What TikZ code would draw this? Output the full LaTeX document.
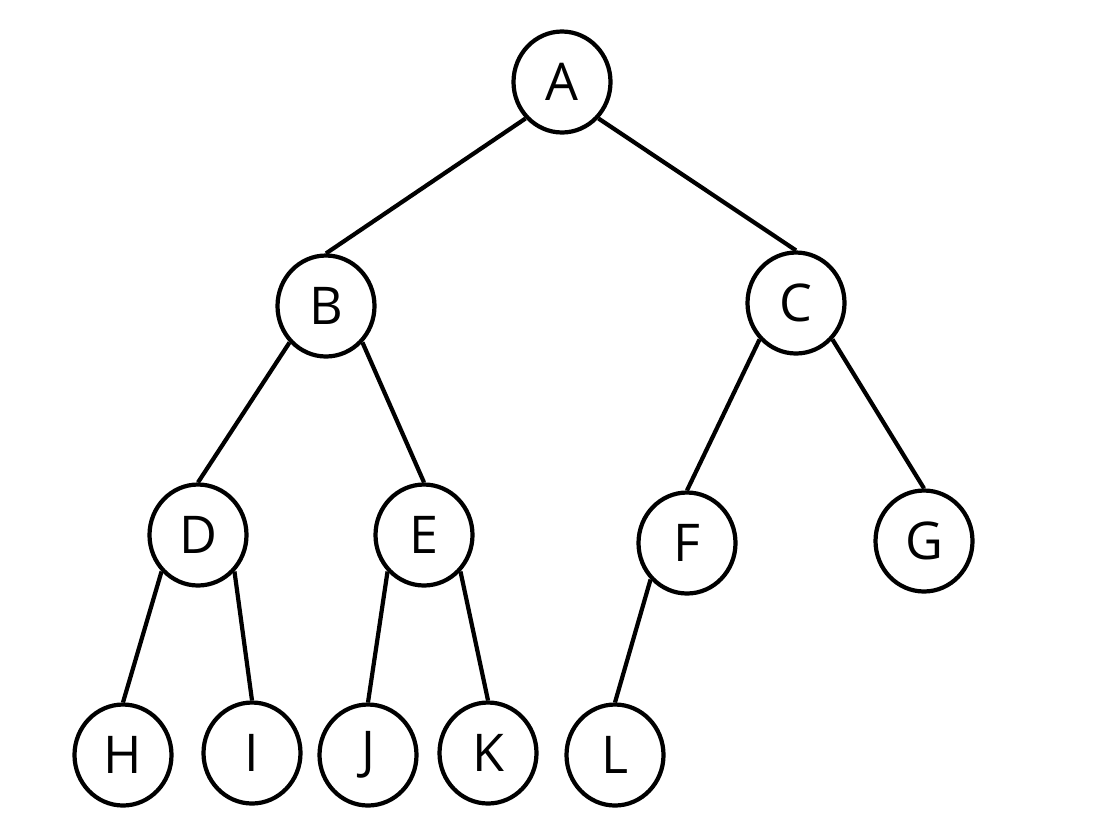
\documentclass[tikz,border=0pt]{standalone}
\usepackage{fontspec}
\setmainfont{Open Sans}
\usetikzlibrary{positioning,shapes.geometric}

\begin{document}
\begin{tikzpicture}[on grid, line width=1.2pt,
    tnode/.style={draw, ellipse, inner sep=0pt, minimum width=0.97cm, minimum height=1.01cm,
                  font=\fontsize{14.8}{16}\selectfont}]
    \useasboundingbox (0,0) rectangle (11.12,-8.34);

    \node (A) [tnode] at (5.62,-0.82) {A};
    \node (B) [tnode, below left=2.24cm and 2.36cm of A] {B};
    \node (C) [tnode, below right=2.21cm and 2.34cm of A] {C};
    \node (D) [tnode, below left=2.29cm and 1.28cm of B] {D};
    \node (E) [tnode, below right=2.29cm and 0.98cm of B] {E};
    \node (F) [tnode, below left=2.40cm and 1.09cm of C] {F};
    \node (G) [tnode, below right=2.38cm and 1.28cm of C] {G};
    \node (H) [tnode, below left=2.20cm and 0.75cm of D] {H};
    \node (I) [tnode, below right=2.18cm and 0.54cm of D] {I};
    \node (J) [tnode, below left=2.20cm and 0.56cm of E] {J};
    \node (K) [tnode, below right=2.18cm and 0.64cm of E] {K};
    \node (L) [tnode, below left=2.12cm and 0.72cm of F] {L};

    \draw (A.-135) -- (B.north);
    \draw (A.-45) -- (C.north);
    \draw (B.-135) -- (D.north);
    \draw (B.-45) -- (E.north);
    \draw (C.-135) -- (F.north);
    \draw (C.-45) -- (G.north);
    \draw (D.-135) -- (H.north);
    \draw (D.-45) -- (I.north);
    \draw (E.-135) -- (J.north);
    \draw (E.-45) -- (K.north);
    \draw (F.-135) -- (L.north);
\end{tikzpicture}
\end{document}
